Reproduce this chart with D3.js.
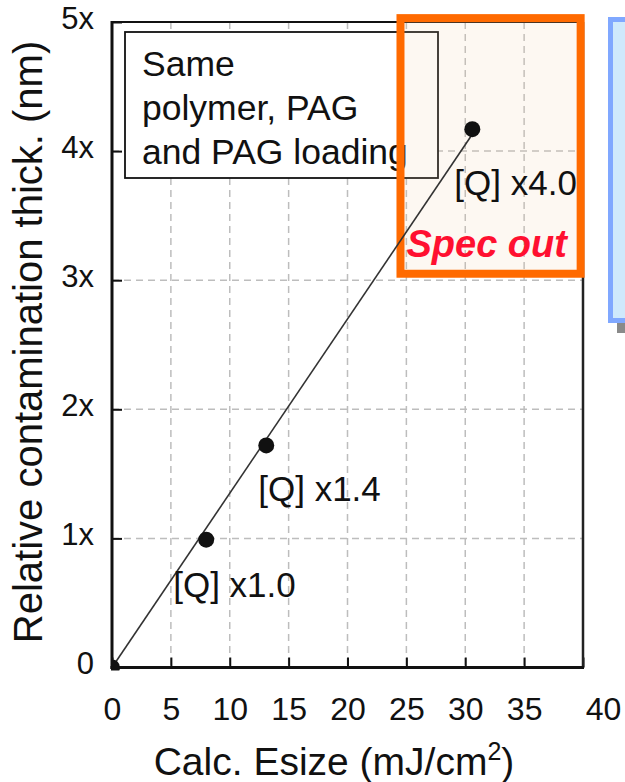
<!DOCTYPE html>
<html>
<head>
<meta charset="utf-8">
<script src="https://cdn.jsdelivr.net/npm/d3@7/dist/d3.min.js"></script>
<style>
  html, body { margin: 0; padding: 0; background: #fff; }
  svg { display: block; }
  text { font-family: "Liberation Sans", Arial, sans-serif; fill: #111; }
</style>
</head>
<body>
<svg id="chart" width="625" height="782"></svg>
<script>
// ---------------- data ----------------
const xTicks = [0, 5, 10, 15, 20, 25, 30, 35, 40];
const xTickLabels = ["0", "5", "10", "15", "20", "25", "30", "35", "40"];
const yTicks = [0, 1, 2, 3, 4, 5];
const yTickLabels = ["0", "1x", "2x", "3x", "4x", "5x"];

const esize = [0, 8.0, 13.1, 30.6];           // Calc. Esize (mJ/cm2)
const thickness = [0, 0.99, 1.72, 4.17];      // relative contamination thickness
const pointLabels = ["", "[Q] x1.0", "[Q] x1.4", "[Q] x4.0"];

const fitX = [0, 30.6];
const fitY = [0, 4.13];

const specX = [24.5, 39.8];
const specY = [3.05, 5.03];
const specText = "Spec out";

const legendLines = ["Same", "polymer, PAG", "and PAG loading"];
const xTitle = "Calc. Esize (mJ/cm";
const xTitleSup = "2";
const yTitle = "Relative contamination thick. (nm)";

// ---------------- layout ----------------
const plot = { left: 112, right: 583, top: 22, bottom: 667.5 };
const labelOffsets = [[0, 0], [-33, 57], [-8, 56], [-18, 66]];

const svg = d3.select("#chart");
const x = d3.scaleLinear().domain([0, 40]).range([plot.left, plot.right]);
const y = d3.scaleLinear().domain([0, 5]).range([plot.bottom, plot.top]);

// decoration: cut-off blue panel on the right
svg.append("rect").attr("x", 617).attr("y", 28).attr("width", 40).attr("height", 305).attr("fill", "#8a8a8a");
svg.append("rect").attr("x", 610.5).attr("y", 19.5).attr("width", 40).attr("height", 301)
  .attr("fill", "#cfe9fc").attr("stroke", "#80a8ff").attr("stroke-width", 5);

// grid
const grid = svg.append("g");
grid.selectAll("line.gx").data(xTicks.filter(t => t > 0 && t < 40)).join("line")
  .attr("x1", d => x(d)).attr("x2", d => x(d))
  .attr("y1", plot.top).attr("y2", plot.bottom)
  .attr("stroke", "#bdbdbd").attr("stroke-width", 1.5).attr("stroke-dasharray", "7,5");
grid.selectAll("line.gy").data(yTicks.filter(t => t > 0 && t < 5)).join("line")
  .attr("y1", d => y(d)).attr("y2", d => y(d))
  .attr("x1", plot.left).attr("x2", plot.right)
  .attr("stroke", "#bdbdbd").attr("stroke-width", 1.5).attr("stroke-dasharray", "7,5");

// axes with inward ticks
const xAxis = d3.axisBottom(x).tickValues(xTicks).tickSize(-10).tickPadding(29)
  .tickFormat((d, i) => xTickLabels[i]);
const gx = svg.append("g").attr("transform", `translate(0,${plot.bottom})`).call(xAxis);
gx.select(".domain").remove();
gx.selectAll(".tick line").attr("stroke", "#111").attr("stroke-width", 2);
gx.selectAll(".tick text").attr("font-size", 32).attr("fill", "#111")
  .attr("font-family", "Liberation Sans, Arial, sans-serif")
  .attr("dy", "0")
  .attr("dx", (d, i) => i === xTicks.length - 1 ? 20 : 0);
gx.selectAll(".tick text").attr("y", 52);

const yAxis = d3.axisLeft(y).tickValues(yTicks).tickSize(-10).tickPadding(18)
  .tickFormat((d, i) => yTickLabels[i]);
const gy = svg.append("g").attr("transform", `translate(${plot.left},0)`).call(yAxis);
gy.select(".domain").remove();
gy.selectAll(".tick line").attr("stroke", "#111").attr("stroke-width", 2);
gy.selectAll(".tick text").attr("font-size", 31).attr("fill", "#111")
  .attr("font-family", "Liberation Sans, Arial, sans-serif")
  .attr("dy", "0.2em");

// frame
svg.append("line").attr("x1", plot.left).attr("x2", plot.right).attr("y1", plot.top).attr("y2", plot.top)
  .attr("stroke", "#111").attr("stroke-width", 2);
svg.append("line").attr("x1", plot.right).attr("x2", plot.right).attr("y1", plot.top).attr("y2", plot.bottom)
  .attr("stroke", "#222").attr("stroke-width", 2.5);
svg.append("line").attr("x1", plot.left).attr("x2", plot.left).attr("y1", plot.top - 1).attr("y2", plot.bottom + 1.5)
  .attr("stroke", "#111").attr("stroke-width", 3);
svg.append("line").attr("x1", plot.left - 1.5).attr("x2", plot.right + 1).attr("y1", plot.bottom).attr("y2", plot.bottom)
  .attr("stroke", "#111").attr("stroke-width", 3);

// legend box
const lg = svg.append("g");
lg.append("rect").attr("x", 125).attr("y", 32).attr("width", 313).attr("height", 146)
  .attr("fill", "#fff").attr("stroke", "#111").attr("stroke-width", 1.8);
lg.selectAll("text").data(legendLines).join("text")
  .attr("x", 142).attr("y", (d, i) => 76 + i * 44)
  .attr("font-size", 35.5).text(d => d);

// spec-out region
svg.append("rect")
  .attr("x", x(specX[0])).attr("y", y(specY[1]))
  .attr("width", x(specX[1]) - x(specX[0])).attr("height", y(specY[0]) - y(specY[1]))
  .attr("fill", "rgba(240,205,170,0.15)").attr("stroke", "#ff6a00").attr("stroke-width", 8);

// fit line
svg.append("path")
  .datum(fitX.map((v, i) => [v, fitY[i]]))
  .attr("d", d3.line().x(d => x(d[0])).y(d => y(d[1])))
  .attr("fill", "none").attr("stroke", "#333").attr("stroke-width", 1.6);

// points
svg.append("clipPath").attr("id", "pc").append("rect")
  .attr("x", plot.left - 1).attr("y", 0).attr("width", 625).attr("height", plot.bottom + 3);
svg.append("g").attr("clip-path", "url(#pc)")
  .selectAll("circle").data(esize).join("circle")
  .attr("cx", d => x(d)).attr("cy", (d, i) => y(thickness[i])).attr("r", 8)
  .attr("fill", "#111");

// point labels
svg.append("g").selectAll("text").data(pointLabels).join("text")
  .attr("x", (d, i) => x(esize[i]) + labelOffsets[i][0])
  .attr("y", (d, i) => y(thickness[i]) + labelOffsets[i][1])
  .attr("font-size", 35).attr("fill", "#1a1a1a").text(d => d);

// spec out text
svg.append("text").attr("x", x(specX[0]) + 6).attr("y", y(specY[0]) - 17)
  .attr("font-size", 38).attr("font-weight", "bold").attr("font-style", "italic")
  .style("fill", "#ff1030").text(specText);

// axis titles
const xt = svg.append("text").attr("x", 334).attr("y", 775).attr("text-anchor", "middle")
  .attr("font-size", 39);
xt.append("tspan").text(xTitle);
xt.append("tspan").attr("font-size", 25).attr("dy", -15).text(xTitleSup);
xt.append("tspan").attr("dy", 15).text(")");

svg.append("text").attr("transform", "translate(42,342) rotate(-90)")
  .attr("text-anchor", "middle").attr("font-size", 40).text(yTitle);
</script>
</body>
</html>
